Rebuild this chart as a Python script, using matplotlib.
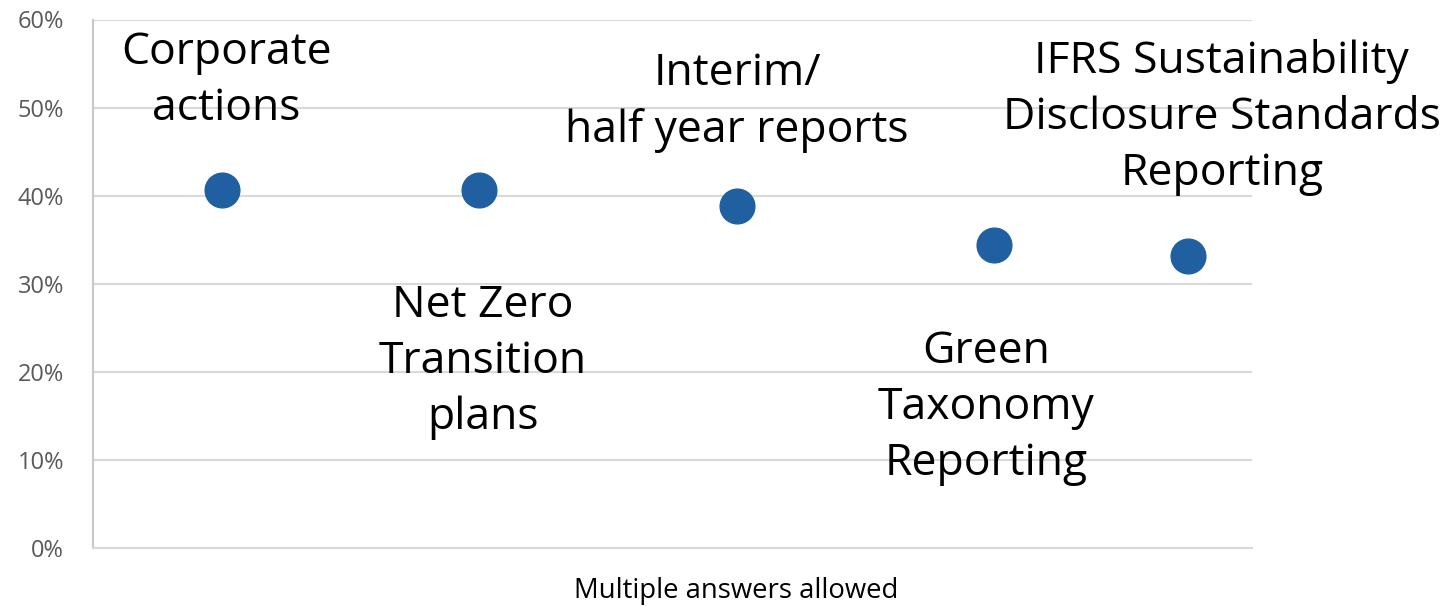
import matplotlib
matplotlib.use("Agg")
import matplotlib.pyplot as plt
from matplotlib.ticker import PercentFormatter

# ---- data ----
categories = ["Corporate\nactions",
              "Net Zero\nTransition\nplans",
              "Interim/\nhalf year reports",
              "Green\nTaxonomy\nReporting",
              "IFRS Sustainability\nDisclosure Standards\nReporting"]
x_pos = [0.5, 1.5, 2.5, 3.5, 4.25]
values = [40.7, 40.7, 38.8, 34.4, 33.1]
label_x = [0.517, 1.513, 2.501, 3.469, 4.383]
label_y = [53.0, 21.15, 50.6, 15.9, 48.9]
y_ticks = [0, 10, 20, 30, 40, 50, 60]
footnote = "Multiple answers allowed"

plt.rcParams['font.family'] = ['Open Sans', 'DejaVu Sans']

fig = plt.figure(figsize=(14.48, 6.06), dpi=100)
ax = fig.add_axes([93/1448, 1-548/606, (1252-93)/1448, (548-19.5)/606])

ax.plot(x_pos, values, linestyle='none', marker='o', markersize=25,
        color='#2060A0', zorder=3)

for lx, ly, txt in zip(label_x, label_y, categories):
    ax.text(lx, ly, txt, ha='center', va='center', fontsize=32,
            color='black', linespacing=1.34, zorder=4)

ax.set_xlim(0, 4.5)
ax.set_ylim(0, 60)
ax.set_yticks(y_ticks)
ax.yaxis.set_major_formatter(PercentFormatter(decimals=0))
ax.set_xticks([])
ax.grid(axis='y', color='#D9D9D9', linewidth=1.5, zorder=0)
ax.tick_params(axis='y', length=0, pad=21, labelsize=17, labelcolor='#595959')
for s in ['top', 'right']:
    ax.spines[s].set_visible(False)
ax.spines['left'].set_color('#C8C8C8')
ax.spines['left'].set_linewidth(1.5)
ax.spines['bottom'].set_color('#D9D9D9')
ax.spines['bottom'].set_linewidth(1.5)

fig.text(736/1448, 1-591/606, footnote, ha='center', va='center',
         fontsize=19.8, color='black')

fig.savefig("out.png", dpi=100)
